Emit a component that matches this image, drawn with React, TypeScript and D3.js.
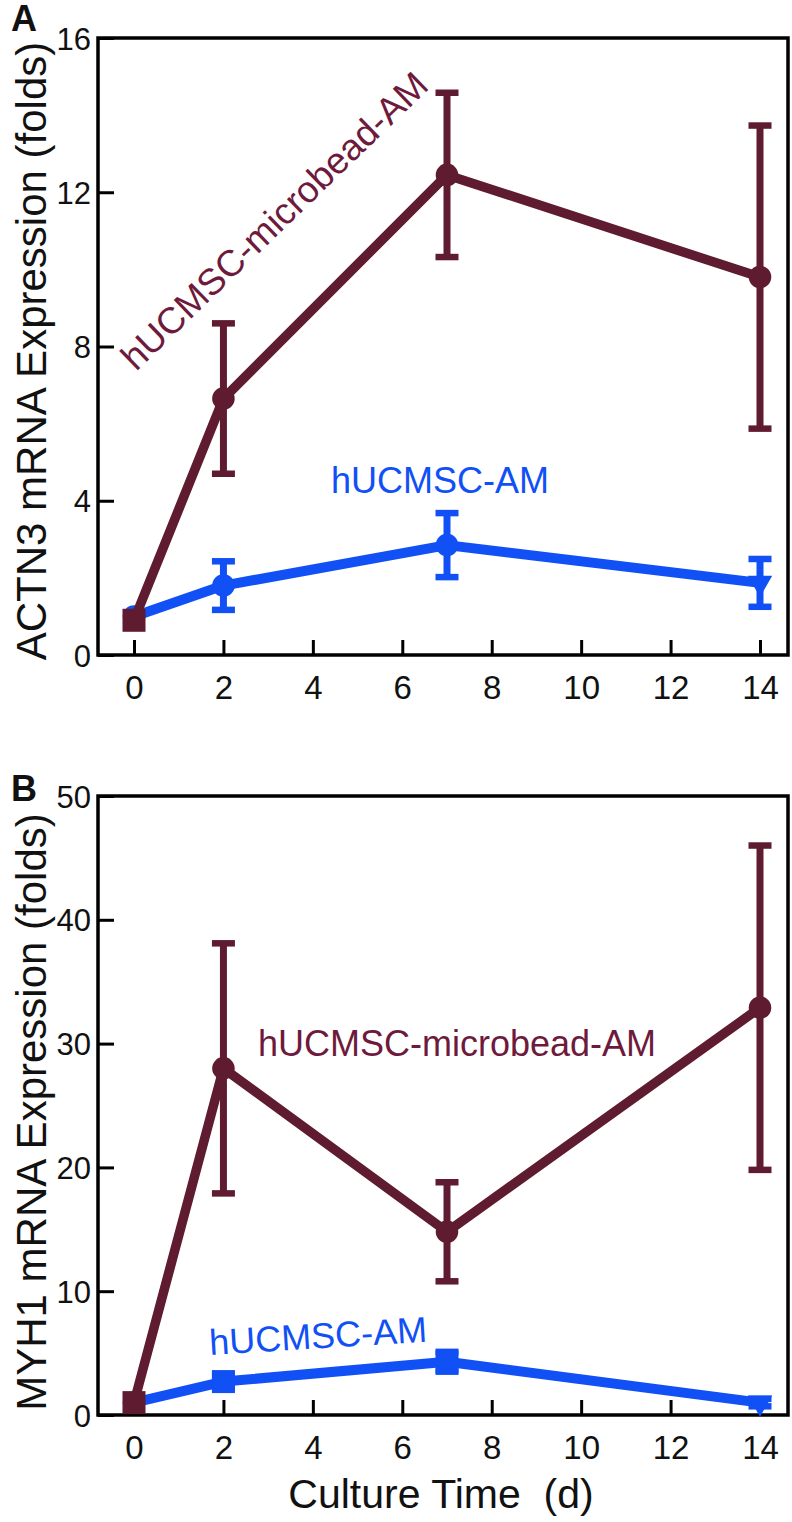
import React, { useRef, useEffect } from 'react';
import * as d3 from 'd3';

// culture days and axis ticks
const days = [0, 2, 7, 14];
const xTicks = [0, 2, 4, 6, 8, 10, 12, 14];

// panel A: ACTN3
const actn3Ticks = [0, 4, 8, 12, 16];
const actn3MicroMean = [0.9, 6.65, 12.45, 9.8];
const actn3MicroSd = [0, 1.95, 2.13, 3.93];
const actn3AmMean = [1.0, 1.8, 2.85, 1.87];
const actn3AmSd = [0, 0.63, 0.83, 0.62];

// panel B: MYH1
const myh1Ticks = [0, 10, 20, 30, 40, 50];
const myh1MicroMean = [1.0, 28.0, 14.8, 32.9];
const myh1MicroSd = [0, 10.1, 4.0, 13.1];
const myh1AmMean = [1.0, 2.7, 4.3, 1.0];
const myh1AmSd = [0, 0.5, 0.8, 0.3];

const BROWN = '#5f1b2f';
const BROWN_TEXT = '#6e1a3c';
const BLUE = '#1050f5';
const FONT = '"Liberation Sans", Arial, Helvetica, sans-serif';

const App = () => {
    const svgRef = useRef(null);

    useEffect(() => {
        const svg = d3.select(svgRef.current);
        svg.selectAll('*').remove();

        const frameLeft = 98;
        const frameRight = 788;
        const x = d3.scaleLinear().domain([0, 14]).range([134, 760]);

        const panels = [
            {
                letter: 'A', letterY: 31, top: 38, bottom: 655, yMax: 16, yTicks: actn3Ticks,
                yTitle: 'ACTN3 mRNA Expression (folds)', titleY: 351,
                micro: { mean: actn3MicroMean, sd: actn3MicroSd, shapes: ['square', 'circle', 'circle', 'circle'] },
                am: { mean: actn3AmMean, sd: actn3AmSd, shapes: ['circle', 'circle', 'circle', 'down'] },
                microLabel: { x: 136, y: 372, rot: -44, size: 37 },
                amLabel: { x: 331, y: 493, rot: 0, size: 36 },
            },
            {
                letter: 'B', letterY: 801, top: 796, bottom: 1415, yMax: 50, yTicks: myh1Ticks,
                yTitle: 'MYH1 mRNA Expression (folds)', titleY: 1112,
                micro: { mean: myh1MicroMean, sd: myh1MicroSd, shapes: ['square', 'circle', 'circle', 'circle'] },
                am: { mean: myh1AmMean, sd: myh1AmSd, shapes: ['circle', 'square', 'square', 'down'] },
                microLabel: { x: 258, y: 1056, rot: 0, size: 36 },
                amLabel: { x: 210, y: 1355, rot: -3.5, size: 36 },
            },
        ];

        const symbolFor = (s) => {
            if (s === 'square') return d3.symbol().type(d3.symbolSquare).size(529)();
            if (s === 'down') return d3.symbol().type(d3.symbolTriangle).size(260)();
            return d3.symbol().type(d3.symbolCircle).size(400)();
        };

        panels.forEach(p => {
            const y = d3.scaleLinear().domain([0, p.yMax]).range([p.bottom, p.top]);
            const g = svg.append('g');

            // x axis (ticks point inward)
            const xAxis = g.append('g')
                .attr('transform', `translate(0,${p.bottom})`)
                .call(d3.axisBottom(x).tickValues(xTicks).tickSizeInner(-15).tickSizeOuter(0).tickPadding(21));
            xAxis.select('.domain').remove();
            xAxis.selectAll('line').attr('stroke', '#000').attr('stroke-width', 3);
            xAxis.selectAll('text')
                .attr('font-family', FONT).attr('font-size', 33).attr('fill', '#111');

            // y axis
            const yAxis = g.append('g')
                .attr('transform', `translate(${frameLeft},0)`)
                .call(d3.axisLeft(y).tickValues(p.yTicks).tickSizeInner(-16).tickSizeOuter(0).tickPadding(7));
            yAxis.select('.domain').remove();
            yAxis.selectAll('line').attr('stroke', '#000').attr('stroke-width', 3);
            yAxis.selectAll('text')
                .attr('font-family', FONT).attr('font-size', 31).attr('fill', '#111').attr('dy', '0.36em');

            // frame
            g.append('rect')
                .attr('x', frameLeft)
                .attr('y', p.top)
                .attr('width', frameRight - frameLeft)
                .attr('height', p.bottom - p.top)
                .attr('fill', 'none')
                .attr('stroke', '#000')
                .attr('stroke-width', 3.5);

            // y title
            g.append('text')
                .attr('transform', `translate(46,${p.titleY}) rotate(-90)`)
                .attr('text-anchor', 'middle')
                .attr('font-family', FONT)
                .attr('font-size', 42)
                .attr('fill', '#111')
                .text(p.yTitle);

            // panel letter
            g.append('text')
                .attr('x', 11)
                .attr('y', p.letterY)
                .attr('font-family', FONT)
                .attr('font-weight', 'bold')
                .attr('font-size', 36)
                .attr('fill', '#111')
                .text(p.letter);

            const drawSeries = (series, color, lineWidth) => {
                const pts = days.map((d, i) => ({ d, m: series.mean[i], sd: series.sd[i], shape: series.shapes[i] }));
                const line = d3.line().x(v => x(v.d)).y(v => y(v.m));
                g.append('path')
                    .datum(pts)
                    .attr('d', line)
                    .attr('fill', 'none')
                    .attr('stroke', color)
                    .attr('stroke-width', lineWidth)
                    .attr('stroke-linejoin', 'round');

                const eb = g.append('g')
                    .selectAll('g')
                    .data(pts.filter(v => v.sd > 0))
                    .join('g');
                eb.append('line')
                    .attr('x1', v => x(v.d)).attr('x2', v => x(v.d))
                    .attr('y1', v => y(v.m - v.sd)).attr('y2', v => y(v.m + v.sd))
                    .attr('stroke', color).attr('stroke-width', 7);
                [-1, 1].forEach(s => {
                    eb.append('line')
                        .attr('x1', v => x(v.d) - 11.5).attr('x2', v => x(v.d) + 11.5)
                        .attr('y1', v => y(v.m + s * v.sd)).attr('y2', v => y(v.m + s * v.sd))
                        .attr('stroke', color).attr('stroke-width', 6.5);
                });

                g.append('g')
                    .selectAll('path')
                    .data(pts)
                    .join('path')
                    .attr('transform', v => `translate(${x(v.d)},${y(v.m)})${v.shape === 'down' ? ' rotate(180)' : ''}`)
                    .attr('d', v => symbolFor(v.shape))
                    .attr('fill', color);
            };

            drawSeries(p.am, BLUE, 10);
            drawSeries(p.micro, BROWN, 9.5);

            // series labels
            g.append('text')
                .attr('transform', `translate(${p.microLabel.x},${p.microLabel.y}) rotate(${p.microLabel.rot})`)
                .attr('font-family', FONT)
                .attr('font-size', p.microLabel.size)
                .attr('fill', BROWN_TEXT)
                .text('hUCMSC-microbead-AM');
            g.append('text')
                .attr('transform', `translate(${p.amLabel.x},${p.amLabel.y}) rotate(${p.amLabel.rot})`)
                .attr('font-family', FONT)
                .attr('font-size', p.amLabel.size)
                .attr('fill', BLUE)
                .text('hUCMSC-AM');
        });

        // x title
        svg.append('text')
            .attr('x', 441)
            .attr('y', 1508)
            .attr('text-anchor', 'middle')
            .attr('font-family', FONT)
            .attr('font-size', 41)
            .attr('fill', '#111')
            .style('white-space', 'pre')
            .text('Culture Time  (d)');
    }, []);

    return (
        <div style={{ position: 'absolute', left: 0, top: 0 }}>
            <svg ref={svgRef} width={792} height={1522} style={{ display: 'block', background: '#fff' }}></svg>
        </div>
    );
};

export default App;
